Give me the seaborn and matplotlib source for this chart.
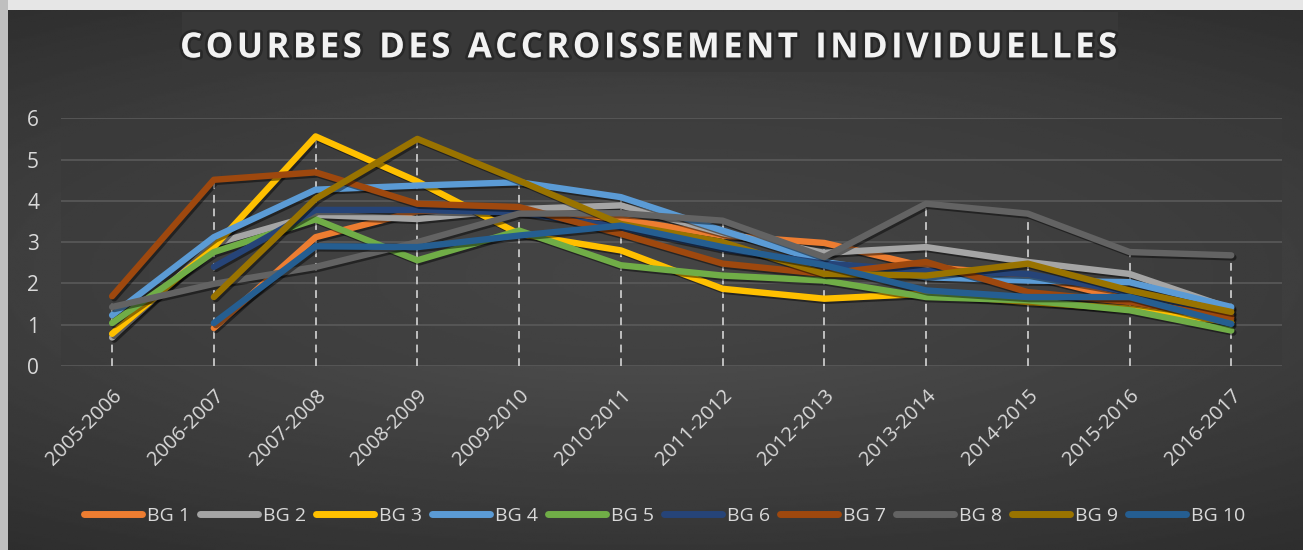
import numpy as np
import pandas as pd
import matplotlib
matplotlib.use("Agg")
import matplotlib.pyplot as plt
import matplotlib.patheffects as pe
import seaborn as sns

# ---- data ----
periods = ["2005-2006", "2006-2007", "2007-2008", "2008-2009", "2009-2010", "2010-2011",
           "2011-2012", "2012-2013", "2013-2014", "2014-2015", "2015-2016", "2016-2017"]
nan = np.nan
bg1 = [nan, 0.92, 3.12, 3.75, 3.80, 3.56, 3.16, 2.98, 2.40, 2.20, 1.60, 1.15]
bg2 = [0.69, 2.96, 3.66, 3.56, 3.80, 3.89, 3.22, 2.74, 2.88, 2.52, 2.23, 1.39]
bg3 = [0.78, 2.88, 5.56, 4.47, 3.20, 2.80, 1.87, 1.63, 1.75, 1.55, 1.39, 1.06]
bg4 = [1.23, 3.12, 4.27, 4.37, 4.45, 4.09, 3.28, 2.52, 2.15, 2.07, 2.03, 1.43]
bg5 = [1.04, 2.76, 3.55, 2.56, 3.28, 2.44, 2.19, 2.07, 1.67, 1.59, 1.35, 0.86]
bg6 = [nan, 2.40, 3.78, 3.78, 3.72, 3.36, 2.84, 2.48, 2.31, 2.23, 1.79, 1.27]
bg7 = [1.69, 4.51, 4.69, 3.93, 3.85, 3.20, 2.48, 2.23, 2.52, 1.79, 1.55, 1.19]
bg8 = [1.43, 1.99, 2.40, 3.00, 3.69, 3.70, 3.52, 2.64, 3.93, 3.69, 2.76, 2.68]
bg9 = [nan, 1.67, 4.05, 5.50, 4.49, 3.44, 3.00, 2.23, 2.19, 2.48, 1.83, 1.31]
bg10 = [nan, 1.04, 2.90, 2.88, 3.16, 3.40, 2.88, 2.44, 1.83, 1.67, 1.67, 1.02]

series_names = ["BG 1", "BG 2", "BG 3", "BG 4", "BG 5", "BG 6", "BG 7", "BG 8", "BG 9", "BG 10"]
series_vals = [bg1, bg2, bg3, bg4, bg5, bg6, bg7, bg8, bg9, bg10]
colors = ["#ED7D31", "#A5A5A5", "#FFC000", "#5B9BD5", "#70AD47",
          "#264478", "#9E480E", "#636363", "#997300", "#255E91"]

title = "COURBES DES ACCROISSEMENT INDIVIDUELLES"

rows = []
for name, vals in zip(series_names, series_vals):
    for i, v in enumerate(vals):
        rows.append({"idx": i, "period": periods[i], "series": name, "value": v})
df = pd.DataFrame(rows).dropna()

# ---- styling ----
sns.set_style("dark")
plt.rcParams["font.family"] = ["Open Sans", "DejaVu Sans"]
txt_col = "#D9D9D9"

fig = plt.figure(figsize=(13.03, 5.5), dpi=100)

# background gradient + frame strips + title box
bg_ax = fig.add_axes([0, 0, 1, 1], zorder=-10)
yy, xx = np.mgrid[-1:1:300j, -1:1:600j]
rad = np.sqrt((xx * 0.8) ** 2 + (yy * 1.1) ** 2)
bg_ax.imshow(0.33 - 0.11 * rad, cmap="gray", vmin=0, vmax=1, aspect="auto",
             extent=[0, 1, 0, 1])
bg_ax.add_patch(plt.Rectangle((0, 0.982), 1, 0.018, color="#E6E6E6", lw=0))
bg_ax.add_patch(plt.Rectangle((0, 0), 0.006, 1, color="#BFBFBF", lw=0))
bg_ax.add_patch(plt.Rectangle((0.14, 0.87), 0.718, 0.108, color="#383838", lw=0))
bg_ax.set_xlim(0, 1)
bg_ax.set_ylim(0, 1)
bg_ax.axis("off")

ax = fig.add_axes([0.047, 0.3345, 0.937, 0.4505])
ax.set_facecolor("#3A3A3A")
ax.patch.set_alpha(0.55)

sns.lineplot(data=df, x="idx", y="value", hue="series", hue_order=series_names,
             palette=colors, linewidth=4.6, ax=ax, errorbar=None, sort=True)
for ln in ax.get_lines():
    ln.set_path_effects([pe.SimpleLineShadow(offset=(1.5, -1.5), shadow_color="black", alpha=0.45),
                         pe.Normal()])
    ln.set_solid_capstyle("round")

# drop lines from the highest value of each period
tops = df.groupby("idx")["value"].max()
ax.vlines(tops.index, 0, tops.values, colors="#BFBFBF", linestyles=(0, (4, 3)),
          linewidth=1.4, zorder=1)

ax.set_xlim(-0.5, len(periods) - 0.5)
ax.set_ylim(0, 6)
ax.set_yticks(range(0, 7))
ax.set_xticks(range(len(periods)))
ax.set_xticklabels(periods, rotation=45, ha="right", rotation_mode="anchor")
ax.tick_params(axis="y", labelsize=15, colors=txt_col, pad=16, length=0)
ax.tick_params(axis="x", labelsize=14.5, colors=txt_col, pad=14, length=0)
ax.grid(axis="y", color="#5A5A5A", linewidth=1.2)
ax.grid(axis="x", visible=False)
for s in ax.spines.values():
    s.set_visible(False)
ax.set_xlabel("")
ax.set_ylabel("")

sns.move_legend(ax, "center", bbox_to_anchor=(0.51, 0.062), bbox_transform=fig.transFigure,
                ncol=10, frameon=False, title=None, fontsize=14, handlelength=3.0,
                handletextpad=0.25, columnspacing=0.5, labelcolor=txt_col)
for h in ax.get_legend().legend_handles:
    h.set_linewidth(5)
    h.set_solid_capstyle("round")

# letter-spaced title
spaced = "\u2002".join("\u200a".join(w) for w in title.split(" "))
fig.text(0.4985, 0.912, spaced, ha="center", va="center",
         fontsize=25, fontweight="bold", color="#F2F2F2",
         path_effects=[pe.withStroke(linewidth=4, foreground="#1A1A1A", alpha=0.5)])

fig.savefig("out.png", dpi=100)
